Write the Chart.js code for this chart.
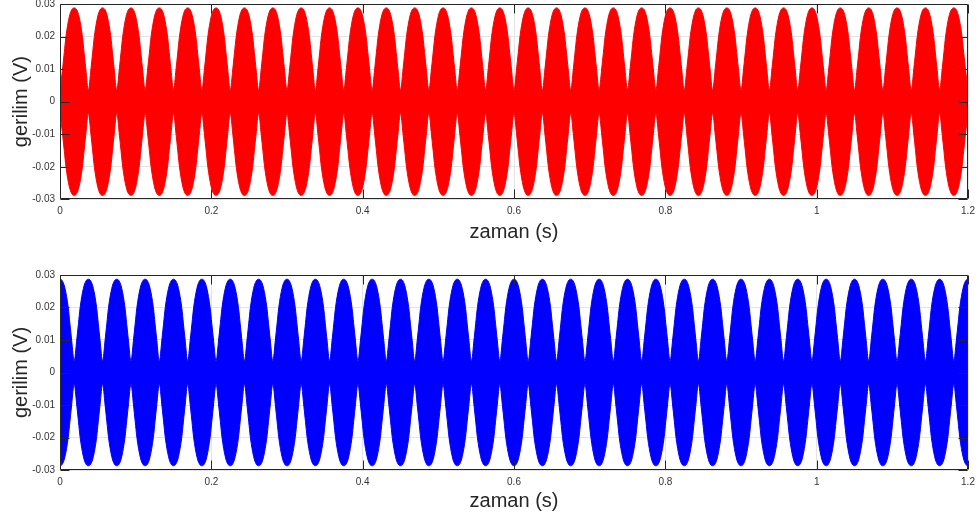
<!DOCTYPE html>
<html>
<head>
<meta charset="utf-8">
<script src="https://cdn.jsdelivr.net/npm/chart.js@4"></script>
<style>
  body { margin: 0; background: #fff; }
  .plot { position: absolute; left: 0; }
</style>
</head>
<body>
<canvas id="ustGrafik" class="plot" width="980" height="262" style="top:0"></canvas>
<canvas id="altGrafik" class="plot" width="980" height="261" style="top:262px"></canvas>
<script>
// peak instants of the beat envelope (s)
var ustTepeler = [0.01875, 0.05625, 0.09375, 0.13125, 0.16875, 0.20625, 0.24375, 0.28125,
    0.31875, 0.35625, 0.39375, 0.43125, 0.46875, 0.50625, 0.54375, 0.58125,
    0.61875, 0.65625, 0.69375, 0.73125, 0.76875, 0.80625, 0.84375, 0.88125,
    0.91875, 0.95625, 0.99375, 1.03125, 1.06875, 1.10625, 1.14375, 1.18125];
var altTepeler = [0, 0.0375, 0.075, 0.1125, 0.15, 0.1875, 0.225, 0.2625, 0.3, 0.3375,
    0.375, 0.4125, 0.45, 0.4875, 0.525, 0.5625, 0.6, 0.6375, 0.675, 0.7125,
    0.75, 0.7875, 0.825, 0.8625, 0.9, 0.9375, 0.975, 1.0125, 1.05, 1.0875,
    1.125, 1.1625, 1.2];
var yarimLob = 0.01875; // node-to-peak distance (s)

// shape of one half lobe: position from node (0) to peak (1), amplitude (V)
var lobKonum = [0, 0.18, 0.3, 0.42, 0.65, 0.82, 1];
var ustGenlik = [0.0035, 0.0100, 0.0150, 0.0200, 0.0260, 0.0282, 0.0288];
var altGenlik = [0.0035, 0.0100, 0.0150, 0.0200, 0.0259, 0.0281, 0.0287];

var xTikler = [0, 0.2, 0.4, 0.6, 0.8, 1, 1.2];
var yTikler = [-0.03, -0.02, -0.01, 0, 0.01, 0.02, 0.03];

function zarf(tepeler, genlik) {
    var pts = [];
    tepeler.forEach(function (p) {
        for (var i = 0; i < lobKonum.length; i++) {
            var x = p - (1 - lobKonum[i]) * yarimLob;
            if (pts.length && Math.abs(pts[pts.length - 1].x - x) < 1e-9) continue;
            pts.push({ x: x, y: genlik[i] });
        }
        for (var j = lobKonum.length - 2; j >= 0; j--) {
            pts.push({ x: p + (1 - lobKonum[j]) * yarimLob, y: genlik[j] });
        }
    });
    return pts;
}

var font = "'Liberation Sans', Arial, Helvetica, sans-serif";
var koyu = '#262626';

// MATLAB style box with inward ticks
var kutu = {
    id: 'kutu',
    afterDatasetsDraw: function (chart) {
        var ctx = chart.ctx, a = chart.chartArea;
        var x = chart.scales.x, y = chart.scales.y;
        var l = Math.round(a.left) + 0.5, r = Math.round(a.right) - 0.5;
        var t = Math.round(a.top) + 0.5, b = Math.round(a.bottom) - 0.5;
        ctx.save();
        ctx.strokeStyle = koyu;
        ctx.lineWidth = 1;
        ctx.beginPath();
        ctx.rect(l, t, r - l, b - t);
        xTikler.forEach(function (v) {
            var px = Math.round(x.getPixelForValue(v)) + 0.5;
            ctx.moveTo(px, b); ctx.lineTo(px, b - 9);
            ctx.moveTo(px, t); ctx.lineTo(px, t + 9);
        });
        yTikler.forEach(function (v) {
            var py = Math.round(y.getPixelForValue(v)) + 0.5;
            ctx.moveTo(l, py); ctx.lineTo(l + 9, py);
            ctx.moveTo(r, py); ctx.lineTo(r - 9, py);
        });
        ctx.stroke();
        ctx.restore();
    }
};

function grafik(id, tepeler, genlik, renk, ustBosluk, xYukseklik, baslikAlt) {
    var ust = zarf(tepeler, genlik);
    var alt = ust.map(function (p) { return { x: p.x, y: -p.y }; });
    return new Chart(document.getElementById(id), {
        type: 'line',
        data: {
            datasets: [{
                data: ust,
                borderColor: renk,
                borderWidth: 1,
                pointRadius: 0,
                cubicInterpolationMode: 'monotone',
                fill: false
            }, {
                data: alt,
                borderColor: renk,
                borderWidth: 1,
                backgroundColor: renk,
                pointRadius: 0,
                cubicInterpolationMode: 'monotone',
                fill: '-1'
            }]
        },
        options: {
            responsive: false,
            animation: false,
            layout: { padding: { top: ustBosluk, right: 12, left: 0, bottom: 0 } },
            plugins: { legend: { display: false }, tooltip: { enabled: false } },
            scales: {
                x: {
                    type: 'linear',
                    min: 0, max: 1.2,
                    afterBuildTicks: function (s) { s.ticks = xTikler.map(function (v) { return { value: v }; }); },
                    afterFit: function (s) { s.height = xYukseklik; s.paddingLeft = 0; s.paddingRight = 0; },
                    ticks: {
                        padding: 6,
                        maxRotation: 0,
                        color: '#333',
                        font: { family: font, size: 10 },
                        callback: function (v) { return String(+v.toFixed(1)); }
                    },
                    grid: { color: '#e4e4e4', drawTicks: false },
                    border: { display: false },
                    title: {
                        display: true, text: 'zaman (s)', color: koyu,
                        font: { family: font, size: 20 },
                        padding: { top: 0, bottom: baslikAlt }
                    }
                },
                y: {
                    min: -0.03, max: 0.03,
                    afterBuildTicks: function (s) { s.ticks = yTikler.map(function (v) { return { value: v }; }); },
                    afterFit: function (s) { s.width = 60; s.paddingTop = 0; s.paddingBottom = 0; },
                    ticks: {
                        padding: 5,
                        color: '#333',
                        font: { family: font, size: 10 },
                        callback: function (v) { return Math.abs(v) < 1e-9 ? '0' : String(+v.toFixed(2)); }
                    },
                    grid: { color: '#e4e4e4', drawTicks: false },
                    border: { display: false },
                    title: {
                        display: true, text: 'gerilim (V)', color: koyu,
                        font: { family: font, size: 20 },
                        padding: { top: 9, bottom: 0 }
                    }
                }
            }
        },
        plugins: [kutu]
    });
}

grafik('ustGrafik', ustTepeler, ustGenlik, '#ff0000', 4, 62.7, 18);
grafik('altGrafik', altTepeler, altGenlik, '#0000ff', 13, 53, 10);
</script>
</body>
</html>
